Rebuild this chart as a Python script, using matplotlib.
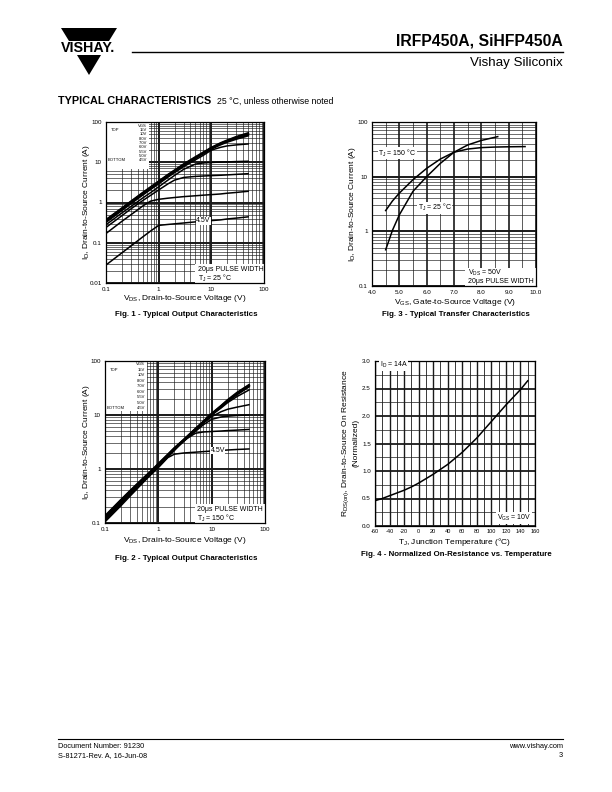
import numpy as np
import matplotlib.pyplot as plt
from matplotlib.patches import Polygon, Rectangle
from matplotlib.ticker import LogLocator, NullFormatter, MultipleLocator

plt.rcParams['font.family'] = ['Liberation Sans', 'DejaVu Sans']
plt.rcParams['mathtext.fontset'] = 'custom'
plt.rcParams['mathtext.rm'] = 'Liberation Sans'
plt.rcParams['mathtext.it'] = 'Liberation Sans:italic'
plt.rcParams['mathtext.bf'] = 'Liberation Sans:bold'
plt.rcParams['mathtext.default'] = 'regular'
plt.rcParams['axes.unicode_minus'] = False

W, H = 612, 792

# ---- data ----
vgs_labels = ['15V', '10V', '8.0V', '7.0V', '6.0V', '5.5V', '5.0V', '4.5V']

# Fig. 1 - output characteristics, TJ = 25 C
vds = [0.1, 0.2, 0.3, 0.5, 0.7, 1, 1.5, 2, 3, 5, 7, 10, 15, 20, 30, 50]
id_25c = [
    [0.37, 0.72, 1.07, 1.75, 2.4, 3.35, 4.9, 6.3, 9.0, 13.5, 17.5, 23, 30, 35, 43, 53],
    [0.36, 0.70, 1.04, 1.70, 2.35, 3.25, 4.75, 6.1, 8.7, 13, 17, 22.5, 29, 34, 41, 50],
    [0.34, 0.67, 1.0, 1.63, 2.25, 3.1, 4.55, 5.9, 8.4, 12.6, 16.5, 21.5, 27.5, 32, 38, 46],
    [0.32, 0.63, 0.94, 1.53, 2.1, 2.9, 4.25, 5.5, 7.8, 11.5, 14.8, 20, 23.5, 25.5, 27, 28.5],
    [0.28, 0.55, 0.8, 1.3, 1.75, 2.45, 3.6, 4.7, 6.7, 9.0, 9.6, 9.9, 10.1, 10.2, 10.4, 10.6],
    [0.24, 0.47, 0.7, 1.12, 1.5, 2.05, 2.9, 3.6, 4.2, 4.45, 4.55, 4.65, 4.75, 4.85, 5.0, 5.2],
    [0.17, 0.34, 0.5, 0.82, 1.08, 1.2, 1.28, 1.33, 1.4, 1.47, 1.52, 1.57, 1.63, 1.7, 1.78, 1.9],
    [0.028, 0.056, 0.084, 0.14, 0.195, 0.27, 0.285, 0.295, 0.31, 0.33, 0.34, 0.355, 0.37, 0.39, 0.41, 0.44],
]

# Fig. 2 - output characteristics, TJ = 150 C
id_150c = [
    [0.135, 0.27, 0.4, 0.65, 0.88, 1.25, 1.85, 2.45, 3.5, 5.6, 7.6, 10.6, 14.8, 19, 26, 36],
    [0.13, 0.26, 0.39, 0.63, 0.86, 1.22, 1.8, 2.4, 3.45, 5.5, 7.5, 10.4, 14.5, 18.5, 25, 35],
    [0.128, 0.255, 0.38, 0.62, 0.85, 1.2, 1.78, 2.38, 3.4, 5.45, 7.4, 10.2, 14, 18, 24, 33.5],
    [0.125, 0.25, 0.37, 0.61, 0.84, 1.18, 1.75, 2.35, 3.35, 5.4, 7.3, 10, 13.5, 17, 22, 29],
    [0.12, 0.24, 0.36, 0.59, 0.82, 1.15, 1.72, 2.3, 3.3, 5.3, 7.1, 9.3, 11.5, 12.8, 14, 15.5],
    [0.115, 0.23, 0.35, 0.57, 0.8, 1.12, 1.68, 2.25, 3.25, 5.0, 6.6, 8.3, 9.2, 9.5, 9.8, 10],
    [0.11, 0.22, 0.34, 0.56, 0.78, 1.1, 1.65, 2.2, 3.4, 4.6, 4.85, 4.95, 5.05, 5.15, 5.25, 5.4],
    [0.105, 0.21, 0.32, 0.54, 0.76, 1.06, 1.62, 1.88, 1.98, 2.05, 2.1, 2.15, 2.2, 2.25, 2.3, 2.35],
]

# Fig. 3 - transfer characteristics
vgs_25c = [4.5, 4.75, 5.0, 5.5, 6.0, 6.5, 7.0, 7.5, 8.0, 8.6]
idt_25c = [0.46, 1.05, 2.0, 5.4, 10, 17.5, 28, 38, 46, 54]
vgs_150c = [4.5, 4.75, 5.0, 5.5, 6.0, 6.5, 7.0, 7.5, 8.0, 8.5, 9.0, 9.6]
idt_150c = [2.4, 3.6, 5.0, 8.8, 14.2, 21, 28, 32, 34, 34.8, 35.2, 35.5]

# Fig. 4 - normalized on-resistance vs temperature
tj = [-60, -50, -40, -30, -20, -10, 0, 10, 20, 30, 40, 50, 60, 70, 80, 90, 100, 110, 120, 130, 140, 150]
rds_norm = [0.46, 0.50, 0.55, 0.60, 0.65, 0.71, 0.78, 0.86, 0.94, 1.03, 1.12, 1.23, 1.34, 1.47,
            1.60, 1.75, 1.90, 2.05, 2.20, 2.34, 2.48, 2.64]

fig = plt.figure(figsize=(W / 100, H / 100), dpi=100)


def box_axes(left, top, right, bottom):
    # axes placed with page pixel coordinates
    return fig.add_axes([left / W, 1 - bottom / H, (right - left) / W, (bottom - top) / H])


# ---- page furniture ----
page = fig.add_axes([0, 0, 1, 1])
page.set_xlim(0, W)
page.set_ylim(H, 0)
page.axis('off')

page.add_patch(Polygon([[61, 28], [117, 28], [109, 41], [69, 41]], closed=True, fc='black', ec='none'))
page.add_patch(Polygon([[77, 55], [101, 55], [89, 75]], closed=True, fc='black', ec='none'))
page.text(88, 48.5, 'VISHAY.', ha='center', va='center', fontsize=10.3, fontweight='bold')
page.plot([132, 563], [52, 52], color='black', lw=1.0)
page.text(563, 41, 'IRFP450A, SiHFP450A', ha='right', va='center', fontsize=11.3, fontweight='bold')
page.text(563, 63, 'Vishay Siliconix', ha='right', va='center', fontsize=9.6)
page.text(58, 101, 'TYPICAL CHARACTERISTICS', ha='left', va='center', fontsize=7.8, fontweight='heavy')
page.text(217, 101, '25 °C, unless otherwise noted', ha='left', va='center', fontsize=6.3)

page.plot([58, 563], [739, 739], color='black', lw=0.8)
page.text(58, 747, 'Document Number: 91230', ha='left', va='center', fontsize=5.3)
page.text(58, 755.5, 'S-81271-Rev. A, 16-Jun-08', ha='left', va='center', fontsize=5.3)
page.text(563, 747, 'www.vishay.com', ha='right', va='center', fontsize=5.3)
page.text(563, 755.5, '3', ha='right', va='center', fontsize=5.3)

GRID = '#1a1a1a'


def log_grid(ax):
    for axis in (ax.xaxis, ax.yaxis):
        axis.set_minor_locator(LogLocator(base=10, subs=np.arange(2, 10)))
        axis.set_minor_formatter(NullFormatter())
    ax.grid(which='major', color=GRID, lw=1.4)
    ax.grid(which='minor', color=GRID, lw=0.45)


def style(ax):
    ax.tick_params(which='both', length=0, labelsize=4.5, pad=3)
    for s in ax.spines.values():
        s.set_linewidth(0.9)


def vgs_legend(ax, box_w, box_h, y0, dy):
    ax.add_patch(Rectangle((0, 1 - box_h), box_w, box_h, transform=ax.transAxes,
                           fc='white', ec='none', zorder=2))
    xr = box_w - 0.01
    fs = 3.0
    ax.text(xr, y0, 'VGS', transform=ax.transAxes, ha='right', va='center', fontsize=fs, zorder=4)
    for i, lab in enumerate(vgs_labels):
        y = y0 - dy * (i + 1)
        ax.text(xr, y, lab, transform=ax.transAxes, ha='right', va='center', fontsize=fs, zorder=4)
    ax.text(0.03, y0 - dy, 'TOP', transform=ax.transAxes, ha='left', va='center', fontsize=fs, zorder=4)
    ax.text(0.01, y0 - dy * len(vgs_labels), 'BOTTOM', transform=ax.transAxes, ha='left',
            va='center', fontsize=fs, zorder=4)


def corner_box(ax, x0, h, lines):
    ax.add_patch(Rectangle((x0, 0), 1 - x0, h, transform=ax.transAxes, fc='white', ec='none', zorder=2))
    for i, s in enumerate(lines):
        ax.text(x0 + 0.015, h * (0.72 - 0.46 * i), s, transform=ax.transAxes, ha='left',
                va='center', fontsize=5, zorder=4)


# ---- Fig. 1 ----
ax1 = box_axes(106, 122, 264, 283)
ax1.set_xscale('log')
ax1.set_yscale('log')
for k, curve in enumerate(id_25c):
    ax1.plot(vds, curve, color='black', lw=1.5 if k < 3 else 1.1, zorder=3)
ax1.set_xlim(0.1, 100)
ax1.set_ylim(0.01, 100)
ax1.set_xticks([0.1, 1, 10, 100], ['0.1', '1', '10', '100'])
ax1.set_yticks([0.01, 0.1, 1, 10, 100], ['0.01', '0.1', '1', '10', '100'])
log_grid(ax1)
style(ax1)
vgs_legend(ax1, 0.27, 0.29, 0.978, 0.027)
corner_box(ax1, 0.565, 0.12, ['20μs PULSE WIDTH', 'T$_J$ = 25 °C'])
ax1.text(7, 0.35, '4.5V', ha='center', va='center', fontsize=5, zorder=4,
         bbox=dict(fc='white', ec='none', pad=0.3))

# ---- Fig. 2 ----
ax2 = box_axes(105, 361, 265, 523)
ax2.set_xscale('log')
ax2.set_yscale('log')
for k, curve in enumerate(id_150c):
    ax2.plot(vds, curve, color='black', lw=1.5 if k < 3 else 1.1, zorder=3)
ax2.set_xlim(0.1, 100)
ax2.set_ylim(0.1, 100)
ax2.set_xticks([0.1, 1, 10, 100], ['0.1', '1', '10', '100'])
ax2.set_yticks([0.1, 1, 10, 100], ['0.1', '1', '10', '100'])
log_grid(ax2)
style(ax2)
vgs_legend(ax2, 0.26, 0.31, 0.98, 0.034)
corner_box(ax2, 0.56, 0.12, ['20μs PULSE WIDTH', 'T$_J$ = 150 °C'])
ax2.text(13, 2.2, '4.5V', ha='center', va='center', fontsize=5, zorder=4,
         bbox=dict(fc='white', ec='none', pad=0.3))

# ---- Fig. 3 ----
ax3 = box_axes(372, 122, 536, 286)
ax3.set_yscale('log')
ax3.plot(vgs_25c, idt_25c, color='black', lw=1.1, zorder=3)
ax3.plot(vgs_150c, idt_150c, color='black', lw=1.1, zorder=3)
ax3.set_xlim(4, 10)
ax3.set_ylim(0.1, 100)
ax3.set_xticks(np.arange(4, 10.1, 1), ['4.0', '5.0', '6.0', '7.0', '8.0', '9.0', '10.0'])
ax3.set_yticks([0.1, 1, 10, 100], ['0.1', '1', '10', '100'])
ax3.xaxis.set_minor_locator(MultipleLocator(0.5))
ax3.yaxis.set_minor_locator(LogLocator(base=10, subs=np.arange(2, 10)))
ax3.yaxis.set_minor_formatter(NullFormatter())
ax3.xaxis.grid(True, which='major', color=GRID, lw=1.2)
ax3.xaxis.grid(True, which='minor', color=GRID, lw=0.5)
ax3.yaxis.grid(True, which='major', color=GRID, lw=1.4)
ax3.yaxis.grid(True, which='minor', color=GRID, lw=0.45)
style(ax3)
ax3.text(4.93, 27, 'T$_J$ = 150 °C', ha='center', va='center', fontsize=5, zorder=4,
         bbox=dict(fc='white', ec='none', pad=0.3))
ax3.text(6.3, 2.7, 'T$_J$ = 25 °C', ha='center', va='center', fontsize=5, zorder=4,
         bbox=dict(fc='white', ec='none', pad=0.3))
corner_box(ax3, 0.57, 0.11, ['V$_{DS}$ = 50V', '20μs PULSE WIDTH'])

# ---- Fig. 4 ----
ax4 = box_axes(375, 361, 535, 526)
ax4.plot(tj, rds_norm, color='black', lw=1.1, zorder=3)
ax4.set_xlim(-60, 160)
ax4.set_ylim(0, 3)
xt = np.arange(-60, 161, 20)
ax4.set_xticks(xt, [str(v) for v in xt])
ax4.set_yticks(np.arange(0, 3.01, 0.5), ['%.1f' % v for v in np.arange(0, 3.01, 0.5)])
ax4.xaxis.set_minor_locator(MultipleLocator(10))
ax4.yaxis.set_minor_locator(MultipleLocator(0.25))
ax4.xaxis.grid(True, which='major', color=GRID, lw=1.0)
ax4.xaxis.grid(True, which='minor', color=GRID, lw=0.6)
ax4.yaxis.grid(True, which='major', color=GRID, lw=1.3)
ax4.yaxis.grid(True, which='minor', color=GRID, lw=0.5)
style(ax4)
ax4.tick_params(axis='x', labelsize=4.1, pad=2.5)
ax4.text(0.03, 0.975, 'I$_D$ = 14A', transform=ax4.transAxes, ha='left', va='center',
         fontsize=5, zorder=4, bbox=dict(fc='white', ec='none', pad=0.3))
ax4.text(0.975, 0.05, 'V$_{GS}$ = 10V', transform=ax4.transAxes, ha='right', va='center',
         fontsize=5, zorder=4, bbox=dict(fc='white', ec='none', pad=0.5))

# ---- axis labels and captions ----
lab = dict(fontsize=6, ha='center', va='center')
page.text(87, 202, 'I$_D$, Drain-to-Source Current (A)', rotation=90, **lab)
page.text(185, 299, 'V$_{DS}$, Drain-to-Source Voltage (V)', **lab)
page.text(352, 204, 'I$_D$, Drain-to-Source Current (A)', rotation=90, **lab)
page.text(455, 303, 'V$_{GS}$, Gate-to-Source Voltage (V)', **lab)
page.text(87, 442, 'I$_D$, Drain-to-Source Current (A)', rotation=90, **lab)
page.text(185, 541, 'V$_{DS}$, Drain-to-Source Voltage (V)', **lab)
page.text(350, 443, 'R$_{DS(on)}$, Drain-to-Source On Resistance\n(Normalized)', rotation=90,
          multialignment='center', linespacing=1.2, **lab)
page.text(455, 542.5, 'T$_J$, Junction Temperature (°C)', **lab)

cap = dict(fontsize=5.7, ha='center', va='center', fontweight='bold')
page.text(186, 315, 'Fig. 1 - Typical Output Characteristics', **cap)
page.text(456, 315, 'Fig. 3 - Typical Transfer Characteristics', **cap)
page.text(186, 558, 'Fig. 2 - Typical Output Characteristics', **cap)
page.text(456, 554, 'Fig. 4 - Normalized On-Resistance vs. Temperature', **cap)

fig.savefig('out.png', dpi=100)
